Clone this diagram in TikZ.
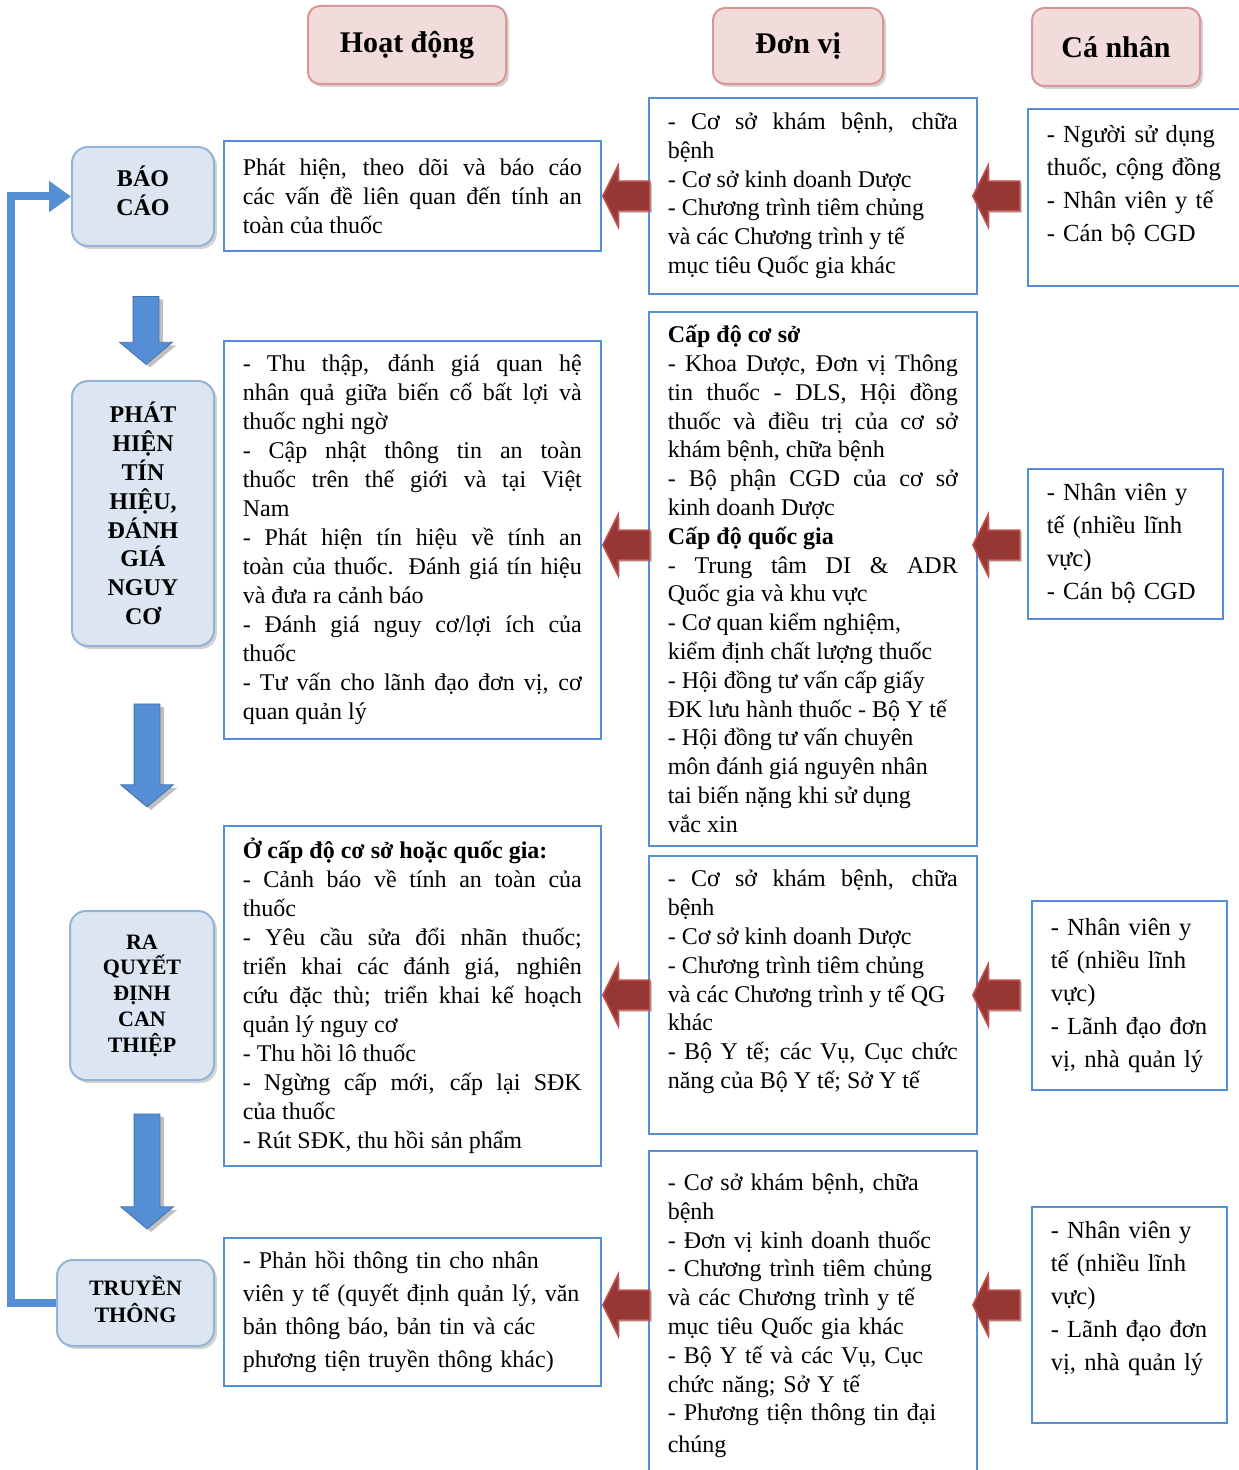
\documentclass[tikz,border=0pt]{standalone}
\usepackage{fontspec}
\setmainfont{Liberation Serif}
\usetikzlibrary{shapes.arrows,shadows,arrows.meta}
\definecolor{hdrfill}{RGB}{242,220,219}
\definecolor{hdrline}{RGB}{217,150,148}
\definecolor{stgfill}{RGB}{220,230,242}
\definecolor{stgline}{RGB}{149,179,215}
\definecolor{boxline}{RGB}{85,142,213}
\definecolor{redfill}{RGB}{149,55,53}
\definecolor{redline}{RGB}{192,80,77}
\definecolor{bluefill}{RGB}{85,142,213}
\hyphenpenalty=10000
\exhyphenpenalty=10000
\tikzset{%
  header/.style    = {draw=hdrline, fill=hdrfill, line width=1pt, rounded corners=6pt,
    font=\bfseries\fontsize{15}{18}\selectfont,
    drop shadow={shadow xshift=1.5pt, shadow yshift=-1.5pt, opacity=.35}}, % titles
  stage/.style     = {draw=stgline, fill=stgfill, line width=1pt, rounded corners=8pt,
    align=center, inner sep=0pt,
    drop shadow={shadow xshift=1.5pt, shadow yshift=-1.5pt, opacity=.35}}, % steps
  textbox/.style   = {draw=boxline, line width=.8pt, anchor=north west,
    inner xsep=9.5pt, inner ysep=0pt},
  actbox/.style    = {textbox, text width=169.5pt, align=justify,
    font=\fontsize{12}{14.5}\selectfont},
  unitbox/.style   = {textbox, text width=145pt, align=justify,
    font=\fontsize{12}{14.4}\selectfont},
  persbox/.style   = {textbox, text width=78.5pt, align=left,
    font=\fontsize{12.3}{16.5}\selectfont},
  backarrow/.style = {single arrow, draw=redline, fill=redfill, line width=.8pt,
    shape border rotate=180, minimum height=23.5pt, inner sep=7pt,
    single arrow head extend=8pt, single arrow tip angle=127,
    drop shadow={shadow xshift=1pt, shadow yshift=-1pt, opacity=.4}},
  downarrow/.style = {single arrow, draw=bluefill!80!black, fill=bluefill, line width=.4pt,
    shape border rotate=270, inner sep=6.25pt,
    single arrow head extend=6.75pt, single arrow tip angle=100,
    drop shadow={shadow xshift=2pt, shadow yshift=-1.5pt, opacity=.5}},
  loopline/.style  = {draw=bluefill, line width=4pt, -{Triangle[length=11pt,width=15pt]}}
}

\begin{document}
\begin{tikzpicture}[x=0.5pt, y=-0.5pt]
  \useasboundingbox (0,0) rectangle (1238,1470);

  % column titles
  \node[header, minimum width=99pt, minimum height=39pt] (hact) at (407,45) {Hoạt động};
  \node[header, minimum width=85pt, minimum height=38pt] (hunit) at (798,46) {Đơn vị};
  \node[header, minimum width=84pt, minimum height=39pt] (hpers) at (1116,47) {Cá nhân};

  % steps
  \node[stage, minimum width=71pt, minimum height=49.5pt,
    font=\bfseries\fontsize{12}{14.5}\selectfont] (bc) at (143,196.5) {BÁO\\CÁO\\[-8.5pt]};
  \node[stage, minimum width=71pt, minimum height=132.5pt,
    font=\bfseries\fontsize{12}{14.4}\selectfont] (ph) at (143,513.5)
    {PHÁT\\HIỆN\\TÍN\\HIỆU,\\ĐÁNH\\GIÁ\\NGUY\\CƠ};
  \node[stage, minimum width=72pt, minimum height=84.5pt,
    font=\bfseries\fontsize{11}{12.9}\selectfont] (rq) at (142,995.5)
    {RA\\QUYẾT\\ĐỊNH\\CAN\\THIỆP};
  \node[stage, minimum width=78.5pt, minimum height=43pt,
    font=\bfseries\fontsize{11}{13.5}\selectfont] (tt) at (135.5,1303) {TRUYỀN\\THÔNG\\[-9.5pt]};

  \node[downarrow, minimum height=34pt] (d1) at (146,325) {};
  \node[downarrow, minimum height=51.5pt] (d2) at (147,750) {};
  \node[downarrow, minimum height=57.5pt] (d3) at (147,1166) {};

  \draw[loopline] (tt.west) -- ++(-45,0) |- (bc.west);

  % activities
  \node[actbox, minimum height=55pt] (a1) at (223,140)
    {Phát hiện, theo dõi và báo cáo\linebreak các vấn đề liên quan đến tính an\linebreak toàn của thuốc};
  \node[actbox, minimum height=199pt] (a2) at (223,340)
    {- Thu thập, đánh giá quan hệ\linebreak nhân quả giữa biến cố bất lợi và\linebreak thuốc nghi ngờ\\
     - Cập nhật thông tin an toàn\linebreak thuốc trên thế giới và tại Việt\linebreak Nam\\
     - Phát hiện tín hiệu về tính an\linebreak toàn của thuốc. Đánh giá tín hiệu\linebreak và đưa ra cảnh báo\\
     - Đánh giá nguy cơ/lợi ích của\linebreak thuốc\\
     - Tư vấn cho lãnh đạo đơn vị, cơ\linebreak quan quản lý};
  \node[actbox, minimum height=170pt] (a3) at (223,825)
    {\textbf{Ở cấp độ cơ sở hoặc quốc gia:}\\
     - Cảnh báo về tính an toàn của\linebreak thuốc\\
     - Yêu cầu sửa đổi nhãn thuốc;\linebreak triển khai các đánh giá, nghiên\linebreak cứu đặc thù; triển khai kế hoạch\linebreak quản lý nguy cơ\\
     - Thu hồi lô thuốc\\
     - Ngừng cấp mới, cấp lại SĐK\linebreak của thuốc\\
     - Rút SĐK, thu hồi sản phẩm};
  \node[actbox, align=left, font=\fontsize{12}{16.5}\selectfont, minimum height=74pt] (a4) at (223,1237)
    {- Phản hồi thông tin cho nhân\\ viên y tế (quyết định quản lý, văn\\ bản thông báo, bản tin và các\\ phương tiện truyền thông khác)};

  % units
  \node[unitbox, minimum height=98pt] (u1) at (648,97)
    {- Cơ sở khám bệnh, chữa\linebreak bệnh\\ - Cơ sở kinh doanh Dược\\ - Chương trình tiêm chủng\\
     và các Chương trình y tế\\ mục tiêu Quốc gia khác};
  \node[unitbox, minimum height=267pt] (u2) at (648,311)
    {\textbf{Cấp độ cơ sở}\\
     - Khoa Dược, Đơn vị Thông\linebreak tin thuốc - DLS, Hội đồng\linebreak thuốc và điều trị của cơ sở\linebreak khám bệnh, chữa bệnh\\
     - Bộ phận CGD của cơ sở\linebreak kinh doanh Dược\\
     \textbf{Cấp độ quốc gia}\\
     - Trung tâm DI \& ADR\linebreak Quốc gia và khu vực\\
     - Cơ quan kiểm nghiệm,\\ kiểm định chất lượng thuốc\\
     - Hội đồng tư vấn cấp giấy\\ ĐK lưu hành thuốc - Bộ Y tế\\
     - Hội đồng tư vấn chuyên\\ môn đánh giá nguyên nhân\\ tai biến nặng khi sử dụng\\ vắc xin};
  \node[unitbox, minimum height=139pt] (u3) at (648,855)
    {- Cơ sở khám bệnh, chữa\linebreak bệnh\\ - Cơ sở kinh doanh Dược\\ - Chương trình tiêm chủng\\
     và các Chương trình y tế QG\\ khác\\ - Bộ Y tế; các Vụ, Cục chức\linebreak năng của Bộ Y tế; Sở Y tế\\[1pt]\mbox{}};
  \node[unitbox, align=left, minimum height=165pt] (u4) at (648,1150)
    {- Cơ sở khám bệnh, chữa\\ bệnh\\ - Đơn vị kinh doanh thuốc\\ - Chương trình tiêm chủng\\
     và các Chương trình y tế\\ mục tiêu Quốc gia khác\\ - Bộ Y tế và các Vụ, Cục\\
     chức năng; Sở Y tế\\ - Phương tiện thông tin đại\\[1.5pt] chúng};

  % persons
  \node[persbox, text width=88pt, minimum height=88.5pt] (p1) at (1027,108)
    {- Người sử dụng\\ thuốc, cộng đồng\\ - Nhân viên y tế\\ - Cán bộ CGD\\[-3pt]\mbox{}};
  \node[persbox, minimum height=75pt] (p2) at (1027,468)
    {- Nhân viên y\\ tế (nhiều lĩnh\\ vực)\\ - Cán bộ CGD};
  \node[persbox, minimum height=94.5pt] (p3) at (1031,900)
    {- Nhân viên y\\ tế (nhiều lĩnh\\ vực)\\ - Lãnh đạo đơn\\ vị, nhà quản lý};
  \node[persbox, minimum height=108pt] (p4) at (1031,1206)
    {- Nhân viên y\\ tế (nhiều lĩnh\\ vực)\\ - Lãnh đạo đơn\\ vị, nhà quản lý\\[2pt]\mbox{}};

  % flow arrows
  \node[backarrow] (ua1) at (630,196) {};
  \node[backarrow] (ua2) at (630,545) {};
  \node[backarrow] (ua3) at (630,995) {};
  \node[backarrow] (ua4) at (630,1305) {};
  \node[backarrow] (pa1) at (1000,196) {};
  \node[backarrow] (pa2) at (1000,545) {};
  \node[backarrow] (pa3) at (1000,995) {};
  \node[backarrow] (pa4) at (1000,1305) {};
\end{tikzpicture}
\end{document}
